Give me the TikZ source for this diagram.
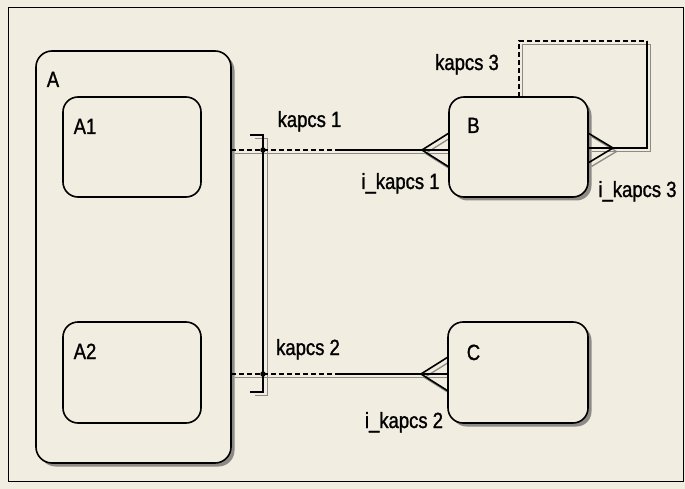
\documentclass[tikz,border=0pt]{standalone}
\usepackage{fontspec}
\setmainfont{Liberation Sans}[FakeStretch=0.84,FakeBold=1.2]
\usetikzlibrary{shadows}
\definecolor{bg}{HTML}{F2EDE1}
\definecolor{shadowc}{HTML}{8E8B86}
\begin{document}
\begin{tikzpicture}[x=1pt,y=-1pt,
  box/.style={draw=black, line width=1.6pt, rounded corners=16pt, fill=bg, inner sep=0pt},
  shbox/.style={box, drop shadow={shadow xshift=3.5pt, shadow yshift=-3.5pt, fill=shadowc, opacity=1}},
  lbl/.style={font=\fontsize{22}{24}\selectfont, inner sep=0pt, anchor=base},
  con/.style={line width=1.6pt, line join=miter},
  dsh/.style={con, dash pattern=on 5pt off 3pt},
  shd/.style={draw=shadowc, line width=1.3pt},
  dot/.style={circle, fill=black, inner sep=0pt, minimum size=5.5pt}]
\useasboundingbox (0,0) rectangle (685,489);
\fill[bg] (0,0) rectangle (685,489);
\draw[line width=0.8pt] (8,7) rectangle (683,481);

% coordinates of connectors
\coordinate (k1s) at (231,150);
\coordinate (k1d) at (340,150);
\coordinate (k1f) at (422,150);
\coordinate (k1e) at (449,150);
\coordinate (k1u) at (449,133);
\coordinate (k1l) at (449,167);
\coordinate (k2s) at (231,374);
\coordinate (k2d) at (340,374);
\coordinate (k2f) at (421,374);
\coordinate (k2e) at (448,374);
\coordinate (k2u) at (448,357);
\coordinate (k2l) at (448,391);
\coordinate (b0) at (250,135);
\coordinate (b1) at (263,135);
\coordinate (b2) at (263,392);
\coordinate (b3) at (250,392);
\coordinate (l0) at (519,97);
\coordinate (l1) at (519,41);
\coordinate (l2) at (647,41);
\coordinate (l3) at (647,148);
\coordinate (k3f) at (613,148);
\coordinate (k3e) at (588,148);
\coordinate (k3u) at (588,133);
\coordinate (k3l) at (588,163);

% connector shadows
\begin{scope}[shd]
\draw ([xshift=3.5pt,yshift=-3.5pt]k1s) -- ([xshift=3.5pt,yshift=-3.5pt]k1e);
\draw ([xshift=3.5pt,yshift=-3.5pt]k1u) -- ([xshift=3.5pt,yshift=-3.5pt]k1f) -- ([xshift=3.5pt,yshift=-3.5pt]k1l);
\draw ([xshift=3.5pt,yshift=-3.5pt]k2s) -- ([xshift=3.5pt,yshift=-3.5pt]k2e);
\draw ([xshift=3.5pt,yshift=-3.5pt]k2u) -- ([xshift=3.5pt,yshift=-3.5pt]k2f) -- ([xshift=3.5pt,yshift=-3.5pt]k2l);
\draw ([xshift=4.5pt,yshift=-3.5pt]b0) -- ([xshift=4.5pt,yshift=-3.5pt]b1) -- ([xshift=4.5pt,yshift=-3.5pt]b2) -- ([xshift=4.5pt,yshift=-3.5pt]b3);
\draw ([xshift=3.5pt,yshift=-3.5pt]l0) -- ([xshift=3.5pt,yshift=-3.5pt]l1) -- ([xshift=3.5pt,yshift=-3.5pt]l2) -- ([xshift=3.5pt,yshift=-3.5pt]l3) -- ([xshift=3.5pt,yshift=-3.5pt]k3e);
\draw ([xshift=3.5pt,yshift=-3.5pt]k3u) -- ([xshift=3.5pt,yshift=-3.5pt]k3f) -- ([xshift=3.5pt,yshift=-3.5pt]k3l);
\end{scope}

% boxes
\node[shbox, minimum width=195pt, minimum height=412pt] (A) at (133.5,257) {};
\node[box, rounded corners=15pt, minimum width=138pt, minimum height=100pt] (A1) at (132,147) {};
\node[box, rounded corners=15pt, minimum width=138pt, minimum height=101pt] (A2) at (132,372.5) {};
\node[shbox, rounded corners=15pt, minimum width=139pt, minimum height=100pt] (B) at (518.5,147) {};
\node[shbox, rounded corners=15pt, minimum width=140pt, minimum height=101pt] (C) at (518,372.5) {};

\node[lbl] (lA) at (53,87) {A};
\node[lbl] (lA1) at (85,134) {A1};
\node[lbl] (lA2) at (85,359) {A2};
\node[lbl] (lB) at (473.5,133) {B};
\node[lbl] (lC) at (473.5,360) {C};

% connectors
\draw[dsh] (k1s) -- (k1d);
\draw[con] (k1d) -- (k1e);
\draw[con] (k1u) -- (k1f) -- (k1l);
\draw[dsh] (k2s) -- (k2d);
\draw[con] (k2d) -- (k2e);
\draw[con] (k2u) -- (k2f) -- (k2l);
\draw[con] (b0) -- (b1) -- (b2) -- (b3);
\node[dot] (j1) at (263,150) {};
\node[dot] (j2) at (263,374) {};
\draw[dsh] (l0) -- (l1) -- (l2);
\draw[con] (l2) -- (l3) -- (k3e);
\draw[con] (k3u) -- (k3f) -- (k3l);

% labels
\node[lbl] (t1) at (309.5,127) {kapcs 1};
\node[lbl] (t2) at (308,355) {kapcs 2};
\node[lbl] (t3) at (467,70) {kapcs 3};
\node[lbl] (i1) at (400.5,189) {i\_kapcs 1};
\node[lbl] (i2) at (404,428) {i\_kapcs 2};
\node[lbl] (i3) at (637.5,197) {i\_kapcs 3};
\end{tikzpicture}
\end{document}
